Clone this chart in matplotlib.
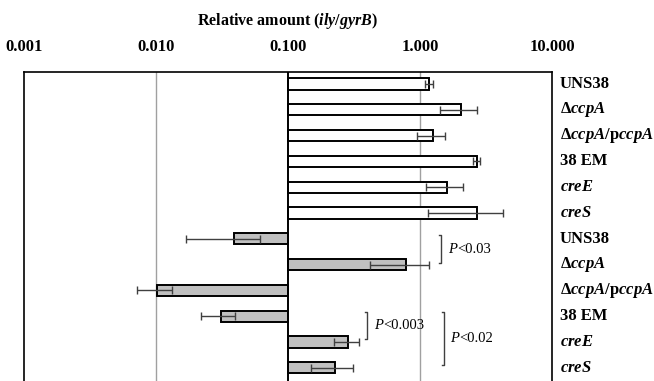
import matplotlib
matplotlib.use("Agg")
import matplotlib.pyplot as plt
import matplotlib.transforms as mtransforms
import numpy as np

plt.rcParams['font.family'] = ['Liberation Serif', 'DejaVu Serif']
plt.rcParams['font.weight'] = 'bold'
plt.rcParams['mathtext.fontset'] = 'custom'
plt.rcParams['mathtext.rm'] = 'Liberation Serif:bold'
plt.rcParams['mathtext.it'] = 'Liberation Serif:italic:bold'
plt.rcParams['mathtext.bf'] = 'Liberation Serif:bold'

# data
strains = ['UNS38', r'Δ$\mathit{ccpA}$', r'Δ$\mathit{ccpA}$/p$\mathit{ccpA}$',
           '38 EM', r'$\mathit{creE}$', r'$\mathit{creS}$']
labels = strains + strains
white_mean = [1.18, 2.05, 1.25, 2.69, 1.61, 2.70]
white_sd = [0.08, 0.64, 0.30, 0.17, 0.50, 1.55]
gray_mean = [0.039, 0.79, 0.0102, 0.031, 0.285, 0.229]
gray_sd = [0.022, 0.37, 0.0030, 0.009, 0.063, 0.080]
pvals = ['<0.03', '<0.003', '<0.02']

base = 0.1
y = np.arange(12)
means = np.array(white_mean + gray_mean)
sds = np.array(white_sd + gray_sd)
colors = ['white'] * 6 + ['#c0c0c0'] * 6

fig = plt.figure(figsize=(6.54, 3.81), dpi=100)
ax = fig.add_axes([24/654, 0, 528/654, 1 - 72/381])

ax.barh(y, means - base, left=base, height=0.43, color=colors,
        edgecolor='black', linewidth=1.4, zorder=3)
ax.errorbar(means, y, xerr=sds, fmt='none', ecolor='#404040',
            elinewidth=1, capsize=3, capthick=1, zorder=4)

ax.set_xscale('log')
ax.set_xlim(0.001, 10)
ax.set_ylim(11.51, -0.465)
ax.axvline(0.01, color='#a0a0a0', lw=1, zorder=1)
ax.axvline(1, color='#a0a0a0', lw=1, zorder=1)
ax.axvline(0.1, color='black', lw=1.4, zorder=5)

ax.xaxis.tick_top()
ax.set_xticks([0.001, 0.01, 0.1, 1, 10])
ax.set_xticklabels(['0.001', '0.010', '0.100', '1.000', '10.000'])
ax.minorticks_off()
ax.tick_params(axis='x', length=0, pad=12, labelsize=12)
ax.set_yticks([])
ax.spines['bottom'].set_visible(False)
for s in ['top', 'left', 'right']:
    ax.spines[s].set_linewidth(1.2)

trans = mtransforms.blended_transform_factory(ax.transAxes, ax.transData)
for yi, lab in zip(y, labels):
    ax.text(1.015, yi, lab, transform=trans, ha='left', va='center',
            fontsize=12, fontweight='bold')

fig.text(0.44, 0.945, r'Relative amount ($\mathit{ily}$/$\mathit{gyrB}$)',
         ha='center', va='center', fontsize=11.5, fontweight='bold')


def bracket(x, y0, y1, txt):
    ax.plot([x * 0.96, x, x, x * 0.96], [y0, y0, y1, y1],
            color='#404040', lw=1, zorder=6)
    ym = (y0 + y1) / 2
    ax.text(x * 1.12, ym, 'P', ha='left', va='center', fontsize=10.5,
            fontweight='normal', fontstyle='italic')
    ax.annotate(txt, (x * 1.12, ym), xytext=(6.5, 0),
                textcoords='offset points', ha='left', va='center',
                fontsize=10.5, fontweight='normal')


bracket(1.45, 5.85, 6.95, pvals[0])
bracket(0.40, 8.85, 9.9, pvals[1])
bracket(1.52, 8.85, 10.9, pvals[2])

fig.savefig('out.png', dpi=100)
